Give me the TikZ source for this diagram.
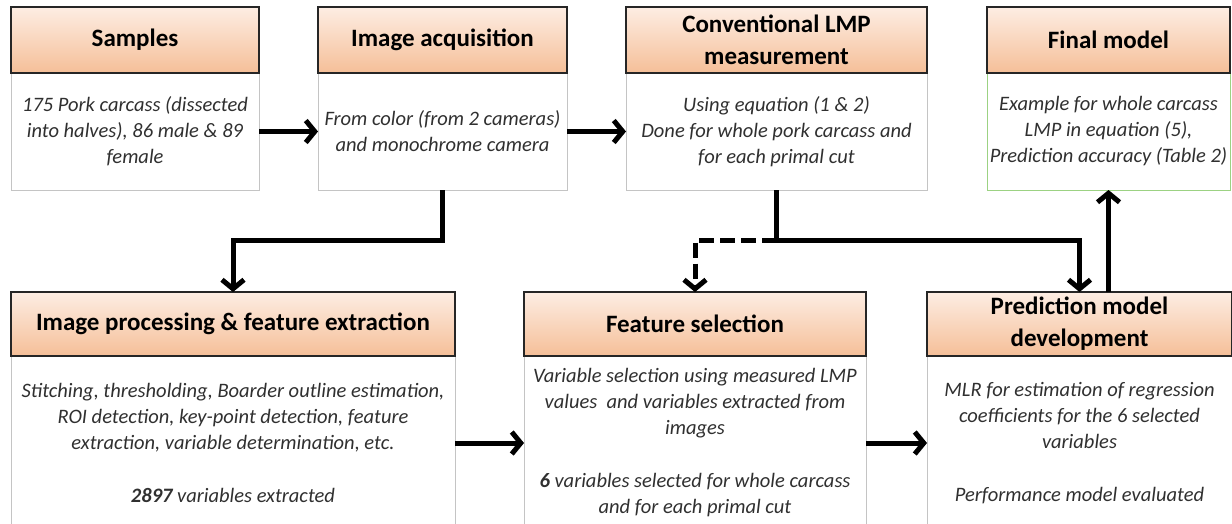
\documentclass[tikz,border=0pt]{standalone}
\usepackage{fontspec}
\setmainfont{Carlito}
\usetikzlibrary{positioning,arrows.meta}
\definecolor{peachtop}{HTML}{FDEDE3}
\definecolor{peachbot}{HTML}{F5BF98}
\definecolor{boxgray}{HTML}{C4C4C4}
\definecolor{boxgreen}{HTML}{9CD283}
\definecolor{textgray}{HTML}{303030}
\begin{document}
\begin{tikzpicture}[x=1pt,y=-1pt]
            \tikzset{
                head/.style={draw=black!85, line width=2pt, outer sep=0pt, inner sep=0pt,
                    top color=peachtop, bottom color=peachbot, align=center,
                    font=\bfseries\fontsize{25}{32}\selectfont},
                body/.style={draw=boxgray, line width=1pt, outer sep=0pt, inner sep=0pt,
                    fill=white, align=center, text=textgray,
                    font=\itshape\fontsize{20.5}{26}\selectfont},
                flow/.style={line width=5pt, -{Straight Barb[length=9pt,width=22pt]}},}
            \useasboundingbox (0,0) rectangle (1232,523);
            % top row
            \node [body, minimum width=248pt, minimum height=117pt] (samplesbody) at (135,131.5)
                {175 Pork carcass (dissected\\ into halves), 86 male \& 89\\ female};
            \node [head, minimum width=248pt, minimum height=66pt, above=0pt of samplesbody] (sampleshead) {Samples};
            \node [body, minimum width=249pt, minimum height=117pt] (acqbody) at (442.5,131.5)
                {From color (from 2 cameras)\\ and monochrome camera};
            \node [head, minimum width=249pt, minimum height=66pt, above=0pt of acqbody] (acqhead) {Image acquisition};
            \node [body, minimum width=301pt, minimum height=117pt] (convbody) at (776.5,131.5)
                {Using equation (1 \& 2)\\ Done for whole pork carcass and\\ for each primal cut};
            \node [head, minimum width=301pt, minimum height=66pt, above=0pt of convbody] (convhead)
                {Conventional LMP\\ measurement};
            \node [body, draw=boxgreen, minimum width=243pt, minimum height=117pt] (finalbody) at (1108.5,131.5)
                {Example for whole carcass\\ LMP in equation (5),\\ Prediction accuracy (Table 2)};
            \node [head, minimum width=243pt, minimum height=66pt, above=0pt of finalbody] (finalhead) {Final model};
            % bottom row
            \node [body, minimum width=444pt, minimum height=174pt] (ipbody) at (233,443)
                {Stitching, thresholding, Boarder outline estimation,\\ ROI detection, key-point detection, feature\\
                 extraction, variable determination, etc.\\[27pt] \textbf{2897} variables extracted};
            \node [head, minimum width=444pt, minimum height=64pt, above=0pt of ipbody] (iphead)
                {Image processing \& feature extraction};
            \node [body, minimum width=342pt, minimum height=174pt] (fsbody) at (695,443)
                {Variable selection using measured LMP\\ values~ and variables extracted from\\ images\\[27pt]
                 \textbf{6} variables selected for whole carcass\\ and for each primal cut};
            \node [head, minimum width=342pt, minimum height=64pt, above=0pt of fsbody] (fshead) {Feature selection};
            \node [body, minimum width=305pt, minimum height=174pt] (predbody) at (1079.5,443)
                {MLR for estimation of regression\\ coefficients for the 6 selected\\ variables\\[27pt]
                 Performance model evaluated};
            \node [head, minimum width=305pt, minimum height=64pt, above=0pt of predbody] (predhead)
                {Prediction model\\ development};
            % connectors
            \draw [flow] (samplesbody) -- (acqbody);
            \draw [flow] (acqbody) -- (convbody);
            \draw [flow] (acqbody.south) -- ++(0,50) -| (iphead.north);
            \draw [flow] (convbody.south) -- ++(0,50) coordinate (split) -| (predhead.north);
            \draw [flow, dash pattern=on 15pt off 6pt] (split) -| (fshead.north);
            \draw [flow] (ipbody) -- (fsbody);
            \draw [flow] (fsbody) -- (predbody);
            \draw [flow] (predhead.north -| finalbody.south) -- (finalbody.south);
        \end{tikzpicture}
\end{document}
